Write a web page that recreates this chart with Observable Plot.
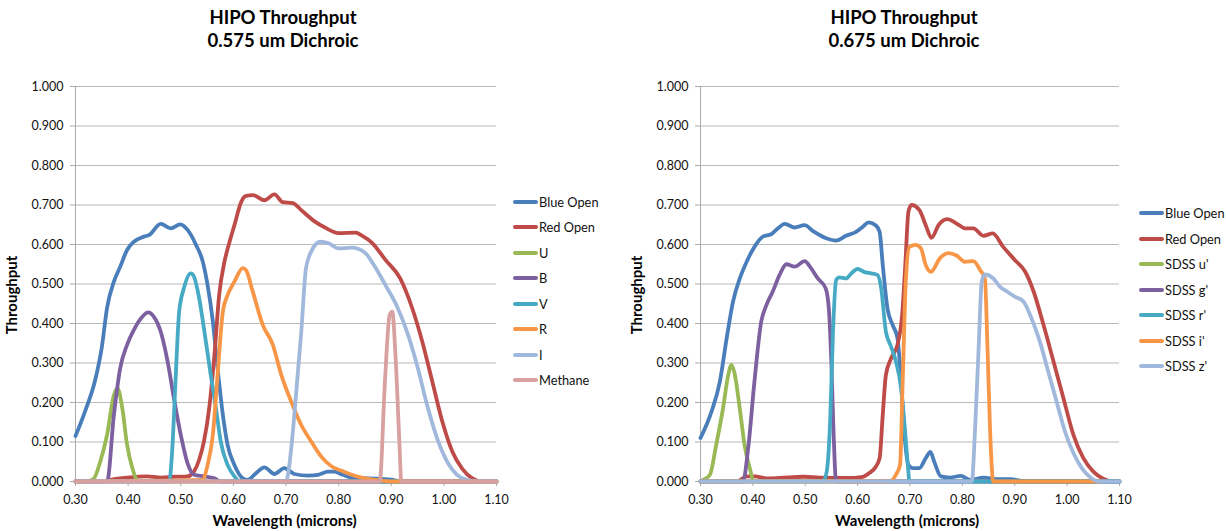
<!DOCTYPE html>
<html>
<head>
<meta charset="utf-8">
<script src="https://cdn.jsdelivr.net/npm/d3@7"></script>
<script src="https://cdn.jsdelivr.net/npm/@observablehq/plot@0.6"></script>
<style>
  html, body { margin: 0; padding: 0; background: #fff; }
  #root { position: relative; width: 1226px; height: 531px; font-family: Lato, "Open Sans", sans-serif; }
  .panel { position: absolute; top: 0; width: 613px; height: 531px; }
  .panel svg { display: block; }
  .legend { position: absolute; display: flex; flex-direction: column; }
  .legend .item { display: flex; align-items: center; height: 25.5px; font-size: 12.8px; color: #111; white-space: nowrap; }
  .legend .sw { width: 25px; height: 4px; border-radius: 2px; display: inline-block; margin-right: 1px; }
</style>
</head>
<body>
<div id="root"></div>
<script>
// ---------- Data ----------
const titleLine1 = "HIPO Throughput";
const leftTitleLine2 = "0.575 um Dichroic";
const rightTitleLine2 = "0.675 um Dichroic";
const xLabel = "Wavelength (microns)";
const yLabel = "Throughput";
const xTicks = [0.30, 0.40, 0.50, 0.60, 0.70, 0.80, 0.90, 1.00, 1.10];
const yTicks = [0, 0.1, 0.2, 0.3, 0.4, 0.5, 0.6, 0.7, 0.8, 0.9, 1.0];

const leftNames = ["Blue Open", "Red Open", "U", "B", "V", "R", "I", "Methane"];
const rightNames = ["Blue Open", "Red Open", "SDSS u'", "SDSS g'", "SDSS r'", "SDSS i'", "SDSS z'"];
const leftColors = ["#4a7ebb", "#be4b48", "#98b954", "#7d60a0", "#46aac5", "#f79646", "#a0b8dc", "#d9a0a0"];
const rightColors = ["#4a7ebb", "#be4b48", "#98b954", "#7d60a0", "#46aac5", "#f79646", "#a0b8dc"];

// Left panel (0.575 um dichroic): [wavelength, throughput]
const leftBlueOpen = [[0.30,0.115],[0.318,0.177],[0.338,0.26],[0.35,0.34],[0.36,0.44],[0.373,0.506],[0.385,0.544],[0.398,0.586],[0.411,0.607],[0.43,0.62],[0.44,0.624],[0.462,0.652],[0.481,0.641],[0.499,0.651],[0.513,0.637],[0.529,0.599],[0.542,0.556],[0.551,0.497],[0.561,0.405],[0.570,0.287],[0.580,0.169],[0.589,0.093],[0.602,0.042],[0.618,0.008],[0.627,0.004],[0.643,0.021],[0.659,0.036],[0.678,0.019],[0.697,0.034],[0.716,0.019],[0.742,0.015],[0.761,0.017],[0.780,0.025],[0.792,0.025],[0.808,0.017],[0.824,0.010],[0.857,0.008],[0.90,0.005],[0.92,0],[1.10,0]];
const leftRedOpen = [[0.30,0],[0.35,0],[0.373,0.006],[0.398,0.010],[0.436,0.013],[0.462,0.010],[0.487,0.012],[0.513,0.013],[0.525,0.025],[0.535,0.055],[0.544,0.101],[0.554,0.185],[0.564,0.32],[0.573,0.472],[0.583,0.556],[0.592,0.603],[0.602,0.649],[0.615,0.708],[0.624,0.723],[0.637,0.725],[0.659,0.712],[0.678,0.727],[0.694,0.707],[0.713,0.705],[0.729,0.687],[0.755,0.658],[0.774,0.643],[0.80,0.629],[0.832,0.63],[0.845,0.622],[0.863,0.605],[0.889,0.561],[0.917,0.514],[0.94,0.438],[0.959,0.354],[0.978,0.253],[0.997,0.152],[1.016,0.076],[1.035,0.032],[1.054,0.008],[1.073,0],[1.10,0]];
const leftU = [[0.30,0],[0.32,0],[0.334,0.006],[0.347,0.05],[0.36,0.118],[0.373,0.219],[0.38,0.236],[0.389,0.185],[0.398,0.093],[0.408,0.034],[0.42,0],[1.10,0]];
const leftB = [[0.30,0],[0.36,0],[0.373,0.169],[0.385,0.287],[0.398,0.346],[0.411,0.384],[0.427,0.417],[0.438,0.428],[0.449,0.417],[0.462,0.379],[0.475,0.304],[0.487,0.211],[0.50,0.118],[0.513,0.046],[0.525,0.017],[0.545,0.013],[0.564,0.008],[0.576,0],[1.10,0]];
const leftV = [[0.30,0],[0.478,0],[0.484,0.084],[0.49,0.253],[0.497,0.43],[0.506,0.489],[0.519,0.527],[0.525,0.519],[0.535,0.464],[0.544,0.388],[0.557,0.27],[0.567,0.185],[0.576,0.101],[0.589,0.042],[0.602,0.013],[0.612,0],[1.10,0]];
const leftR = [[0.30,0],[0.541,0.004],[0.551,0.042],[0.561,0.118],[0.570,0.27],[0.58,0.43],[0.589,0.472],[0.602,0.506],[0.618,0.54],[0.624,0.535],[0.637,0.48],[0.656,0.396],[0.675,0.346],[0.691,0.27],[0.71,0.202],[0.729,0.143],[0.748,0.101],[0.767,0.063],[0.787,0.038],[0.806,0.027],[0.825,0.017],[0.844,0.010],[0.87,0.004],[0.90,0],[1.10,0]];
const leftI = [[0.30,0],[0.70,0],[0.710,0.084],[0.719,0.219],[0.729,0.379],[0.738,0.54],[0.748,0.582],[0.765,0.607],[0.781,0.603],[0.80,0.59],[0.825,0.592],[0.851,0.578],[0.867,0.548],[0.889,0.497],[0.911,0.443],[0.930,0.379],[0.949,0.295],[0.968,0.194],[0.987,0.110],[1.006,0.051],[1.025,0.017],[1.044,0.004],[1.06,0],[1.10,0]];
const leftMethane = [[0.30,0],[0.878,0],[0.888,0.253],[0.897,0.422],[0.902,0.43],[0.908,0.32],[0.916,0.083],[0.919,0],[1.10,0]];

// Right panel (0.675 um dichroic)
const rightBlueOpen = [[0.30,0.11],[0.321,0.177],[0.337,0.253],[0.35,0.363],[0.362,0.455],[0.375,0.514],[0.388,0.556],[0.403,0.594],[0.419,0.62],[0.435,0.626],[0.448,0.641],[0.461,0.652],[0.48,0.643],[0.499,0.649],[0.515,0.634],[0.54,0.616],[0.559,0.61],[0.578,0.622],[0.597,0.632],[0.61,0.645],[0.621,0.656],[0.635,0.648],[0.642,0.632],[0.648,0.548],[0.657,0.438],[0.667,0.396],[0.676,0.363],[0.683,0.253],[0.689,0.126],[0.697,0.042],[0.705,0.034],[0.718,0.034],[0.73,0.059],[0.739,0.075],[0.746,0.051],[0.759,0.013],[0.776,0.01],[0.797,0.014],[0.815,0.004],[0.84,0.01],[0.866,0.006],[0.891,0.006],[0.923,0],[1.10,0]];
const rightRedOpen = [[0.30,0],[0.37,0],[0.388,0.013],[0.404,0.013],[0.426,0.008],[0.451,0.009],[0.496,0.012],[0.527,0.01],[0.578,0.009],[0.61,0.012],[0.622,0.021],[0.635,0.038],[0.642,0.059],[0.648,0.169],[0.654,0.27],[0.664,0.312],[0.676,0.346],[0.685,0.422],[0.691,0.548],[0.697,0.683],[0.703,0.70],[0.718,0.687],[0.73,0.649],[0.741,0.617],[0.755,0.65],[0.771,0.664],[0.789,0.653],[0.805,0.641],[0.821,0.641],[0.84,0.622],[0.858,0.628],[0.878,0.594],[0.90,0.561],[0.92,0.531],[0.936,0.481],[0.955,0.396],[0.974,0.304],[0.993,0.211],[1.012,0.118],[1.031,0.059],[1.05,0.025],[1.069,0.007],[1.089,0],[1.10,0]];
const rightU = [[0.30,0],[0.305,0.004],[0.318,0.017],[0.33,0.093],[0.343,0.185],[0.353,0.27],[0.359,0.295],[0.365,0.274],[0.375,0.185],[0.384,0.093],[0.394,0.034],[0.402,0],[1.10,0]];
const rightG = [[0.30,0],[0.381,0],[0.391,0.084],[0.403,0.253],[0.416,0.405],[0.426,0.447],[0.438,0.481],[0.451,0.523],[0.464,0.55],[0.48,0.544],[0.499,0.558],[0.511,0.54],[0.524,0.514],[0.539,0.489],[0.545,0.438],[0.55,0.295],[0.554,0.126],[0.559,0],[1.10,0]];
const rightR = [[0.30,0],[0.534,0],[0.541,0.025],[0.548,0.169],[0.553,0.379],[0.559,0.51],[0.565,0.517],[0.578,0.514],[0.588,0.527],[0.60,0.538],[0.613,0.53],[0.626,0.527],[0.638,0.523],[0.645,0.489],[0.654,0.379],[0.664,0.341],[0.673,0.304],[0.683,0.236],[0.689,0.152],[0.696,0.04],[0.699,0],[1.10,0]];
const rightI = [[0.30,0],[0.661,0],[0.673,0.017],[0.681,0.042],[0.686,0.253],[0.692,0.506],[0.699,0.594],[0.711,0.599],[0.721,0.59],[0.73,0.548],[0.74,0.531],[0.757,0.565],[0.773,0.578],[0.789,0.572],[0.805,0.556],[0.821,0.558],[0.834,0.535],[0.843,0.514],[0.848,0.337],[0.853,0.126],[0.859,0],[1.063,0]];
const rightZ = [[0.30,0],[0.818,0],[0.824,0.126],[0.831,0.337],[0.837,0.506],[0.843,0.524],[0.859,0.514],[0.872,0.493],[0.885,0.481],[0.90,0.468],[0.917,0.455],[0.932,0.413],[0.948,0.354],[0.964,0.278],[0.98,0.202],[0.996,0.126],[1.012,0.072],[1.028,0.034],[1.044,0.011],[1.06,0],[1.10,0]];

const leftSeries = [leftBlueOpen, leftRedOpen, leftU, leftB, leftV, leftR, leftI, leftMethane];
const rightSeries = [rightBlueOpen, rightRedOpen, rightU, rightG, rightR, rightI, rightZ];

// ---------- Drawing ----------
function makePanel({names, colors, series, line2, left, marginLeft, marginRight, titleDx, legendLeft, legendTop}) {
  const rows = series.flatMap((vals, i) => vals.map(([x, y]) => ({name: names[i], x, y})));
  const chart = Plot.plot({
    width: 613,
    height: 531,
    marginLeft, marginRight,
    marginTop: 86,
    marginBottom: 50,
    style: {fontFamily: "Lato, 'Open Sans', sans-serif", fontSize: "12.5px", color: "#111", background: "#fff"},
    x: {type: "linear", domain: [0.30, 1.10]},
    y: {type: "linear", domain: [0, 1]},
    color: {domain: names, range: colors},
    marks: [
      Plot.gridY(yTicks, {stroke: "#b9b9b9", strokeOpacity: 1}),
      Plot.axisY(yTicks, {tickFormat: d3.format(".3f"), tickSize: 5, tickPadding: 7, label: null, stroke: "#aaa", fontSize: 12.5}),
      Plot.axisX(xTicks, {tickFormat: d3.format(".2f"), tickSize: 5, tickPadding: 9, label: null, stroke: "#aaa", fontSize: 12.5}),
      Plot.ruleX([0.30], {stroke: "#aaa"}),
      Plot.ruleY([0], {stroke: "#aaa"}),
      Plot.line(rows, {x: "x", y: "y", z: "name", stroke: "name", curve: "monotone-x", strokeWidth: 3.8, strokeLinejoin: "round", strokeLinecap: "round"}),
      Plot.text([titleLine1], {text: d => d, frameAnchor: "top", lineAnchor: "middle", dy: -68, dx: titleDx, fontSize: 18.5, fontWeight: "bold", fill: "#000"}),
      Plot.text([line2], {text: d => d, frameAnchor: "top", lineAnchor: "middle", dy: -45, dx: titleDx, fontSize: 18.5, fontWeight: "bold", fill: "#000"}),
      Plot.text([xLabel], {text: d => d, frameAnchor: "bottom", lineAnchor: "middle", dy: 40, dx: titleDx / 2, fontSize: 15, fontWeight: "bold", fill: "#000"}),
      Plot.text([yLabel], {text: d => d, frameAnchor: "left", textAnchor: "middle", lineAnchor: "middle", rotate: -90, dx: -63.5, dy: 11, fontSize: 15, fontWeight: "bold", fill: "#000"})
    ]
  });
  const div = document.createElement("div");
  div.className = "panel";
  div.style.left = left + "px";
  div.appendChild(chart);
  const legend = document.createElement("div");
  legend.className = "legend";
  legend.style.left = legendLeft + "px";
  legend.style.top = legendTop + "px";
  names.forEach((n, i) => {
    const item = document.createElement("div");
    item.className = "item";
    const sw = document.createElement("span");
    sw.className = "sw";
    sw.style.background = colors[i];
    const t = document.createElement("span");
    t.textContent = n;
    item.appendChild(sw);
    item.appendChild(t);
    legend.appendChild(item);
  });
  div.appendChild(legend);
  return div;
}

const root = document.getElementById("root");
root.appendChild(makePanel({names: leftNames, colors: leftColors, series: leftSeries, line2: leftTitleLine2, left: 0, marginLeft: 75, marginRight: 117, titleDx: -3, legendLeft: 513, legendTop: 189}));
root.appendChild(makePanel({names: rightNames, colors: rightColors, series: rightSeries, line2: rightTitleLine2, left: 613, marginLeft: 87, marginRight: 107, titleDx: -6, legendLeft: 526, legendTop: 200.5}));
</script>
</body>
</html>
